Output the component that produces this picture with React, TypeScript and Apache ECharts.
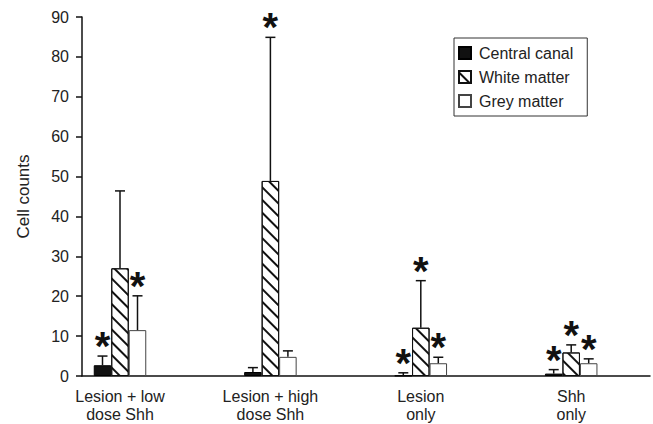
import React, { useEffect, useRef } from "react";
import * as echarts from "echarts";

const categories = ["Lesion + low\ndose Shh", "Lesion + high\ndose Shh", "Lesion\nonly", "Shh\nonly"];
const seriesNames = ["Central canal", "White matter", "Grey matter"];
const centralMeans = [2.7, 1.0, 0.1, 0.6];
const centralErrTop = [5.0, 2.1, 0.8, 1.6];
const whiteMeans = [27, 48.9, 12.1, 5.9];
const whiteErrTop = [46.4, 84.9, 23.9, 7.8];
const greyMeans = [11.5, 4.8, 3.2, 3.2];
const greyErrTop = [20.1, 6.3, 4.7, 4.3];
const centralStars = [1, 0, 1, 1];
const whiteStars = [0, 1, 1, 1];
const greyStars = [1, 0, 1, 1];
const yTicks = { min: 0, max: 90, interval: 10 };

const FONT = "'Liberation Sans', Arial, Helvetica, sans-serif";
const BAR_W = 17.5;

function errSeries(idx: number, means: number[], tops: number[], stars: number[]) {
  return {
    type: "custom",
    xAxisIndex: 0,
    yAxisIndex: 0,
    z: 5,
    silent: true,
    data: means.map((m, i) => [i, m, tops[i], stars[i]]),
    renderItem: (params: any, api: any) => {
      const i = api.value(0);
      const m = api.value(1);
      const e = api.value(2);
      const s = api.value(3);
      const base = api.coord([i, m]);
      const top = api.coord([i, e]);
      const x = base[0] + (idx - 1) * BAR_W;
      const st = { stroke: "#111", lineWidth: 1.5 };
      const children: any[] = [
        { type: "line", shape: { x1: x, y1: base[1], x2: x, y2: top[1] }, style: st },
        { type: "line", shape: { x1: x - 5, y1: top[1], x2: x + 5, y2: top[1] }, style: st },
      ];
      if (s) {
        children.push({
          type: "text",
          style: {
            text: "*",
            x: x,
            y: top[1] - 10,
            align: "center",
            verticalAlign: "middle",
            fontSize: 40,
            fontWeight: "bold",
            fontFamily: FONT,
            fill: "#111",
          },
        });
      }
      return { type: "group", children };
    },
  };
}

export default function App() {
  const ref = useRef<HTMLDivElement>(null);
  useEffect(() => {
    if (!ref.current) return;
    const chart = echarts.init(ref.current, null, { renderer: "svg" });
    const hatch = {
      symbol: "rect",
      symbolSize: 1,
      dashArrayX: [[1, 0]],
      dashArrayY: [1.2, 7],
      rotation: Math.PI / 4,
      color: "#111",
    };
    chart.setOption({
      animation: false,
      backgroundColor: "#fff",
      textStyle: { fontFamily: FONT },
      legend: {
        left: 454,
        top: 38,
        orient: "vertical",
        data: seriesNames,
        icon: "rect",
        itemWidth: 12,
        itemHeight: 12,
        itemGap: 8,
        borderColor: "#333",
        borderWidth: 1,
        padding: [7, 14, 7, 4],
        textStyle: { fontSize: 16, color: "#222", fontFamily: FONT, padding: [0, 0, 0, 3] },
      },
      grid: [
        { left: 44.8, right: 6.6, top: 17, bottom: 48, outerBoundsMode: "none", containLabel: false },
        { left: 82, right: 3, top: 17, bottom: 48, outerBoundsMode: "none", containLabel: false },
      ],
      xAxis: [
        {
          type: "category",
          gridIndex: 0,
          data: categories,
          axisLine: { show: false },
          axisTick: { show: false },
          axisLabel: { fontSize: 16, color: "#222", lineHeight: 18, margin: 11, fontFamily: FONT },
        },
        {
          type: "value",
          gridIndex: 1,
          min: 0,
          max: 1,
          axisLine: { show: true, lineStyle: { color: "#111", width: 1.5 } },
          axisTick: { show: false },
          axisLabel: { show: false },
          splitLine: { show: false },
        },
      ],
      yAxis: [
        { type: "value", gridIndex: 0, ...yTicks, show: false, splitLine: { show: false } },
        {
          type: "value",
          gridIndex: 1,
          ...yTicks,
          name: "Cell counts",
          nameLocation: "middle",
          nameGap: 50,
          nameTextStyle: { fontSize: 17, color: "#222", fontFamily: FONT },
          axisLine: { show: true, lineStyle: { color: "#111", width: 1.5 } },
          axisTick: { show: true, length: 6, lineStyle: { color: "#111", width: 1.5 } },
          axisLabel: { fontSize: 16, color: "#222", margin: 13, fontFamily: FONT },
          splitLine: { show: false },
        },
      ],
      series: [
        {
          name: seriesNames[0],
          type: "bar",
          xAxisIndex: 0,
          yAxisIndex: 0,
          barWidth: BAR_W,
          barGap: "0%",
          data: centralMeans,
          itemStyle: { color: "#111", borderColor: "#000", borderWidth: 1 },
        },
        {
          name: seriesNames[1],
          type: "bar",
          xAxisIndex: 0,
          yAxisIndex: 0,
          barWidth: BAR_W,
          barGap: "0%",
          data: whiteMeans,
          itemStyle: { color: "#fff", borderColor: "#111", borderWidth: 1, decal: hatch },
        },
        {
          name: seriesNames[2],
          type: "bar",
          xAxisIndex: 0,
          yAxisIndex: 0,
          barWidth: BAR_W,
          barGap: "0%",
          data: greyMeans,
          itemStyle: { color: "#fff", borderColor: "#444", borderWidth: 1 },
        },
        errSeries(0, centralMeans, centralErrTop, centralStars),
        errSeries(1, whiteMeans, whiteErrTop, whiteStars),
        errSeries(2, greyMeans, greyErrTop, greyStars),
        { type: "line", xAxisIndex: 1, yAxisIndex: 1, data: [], silent: true },
      ],
    });
    return () => chart.dispose();
  }, []);
  return <div ref={ref} style={{ position: "fixed", left: 0, top: 0, width: 653, height: 424 }} />;
}
